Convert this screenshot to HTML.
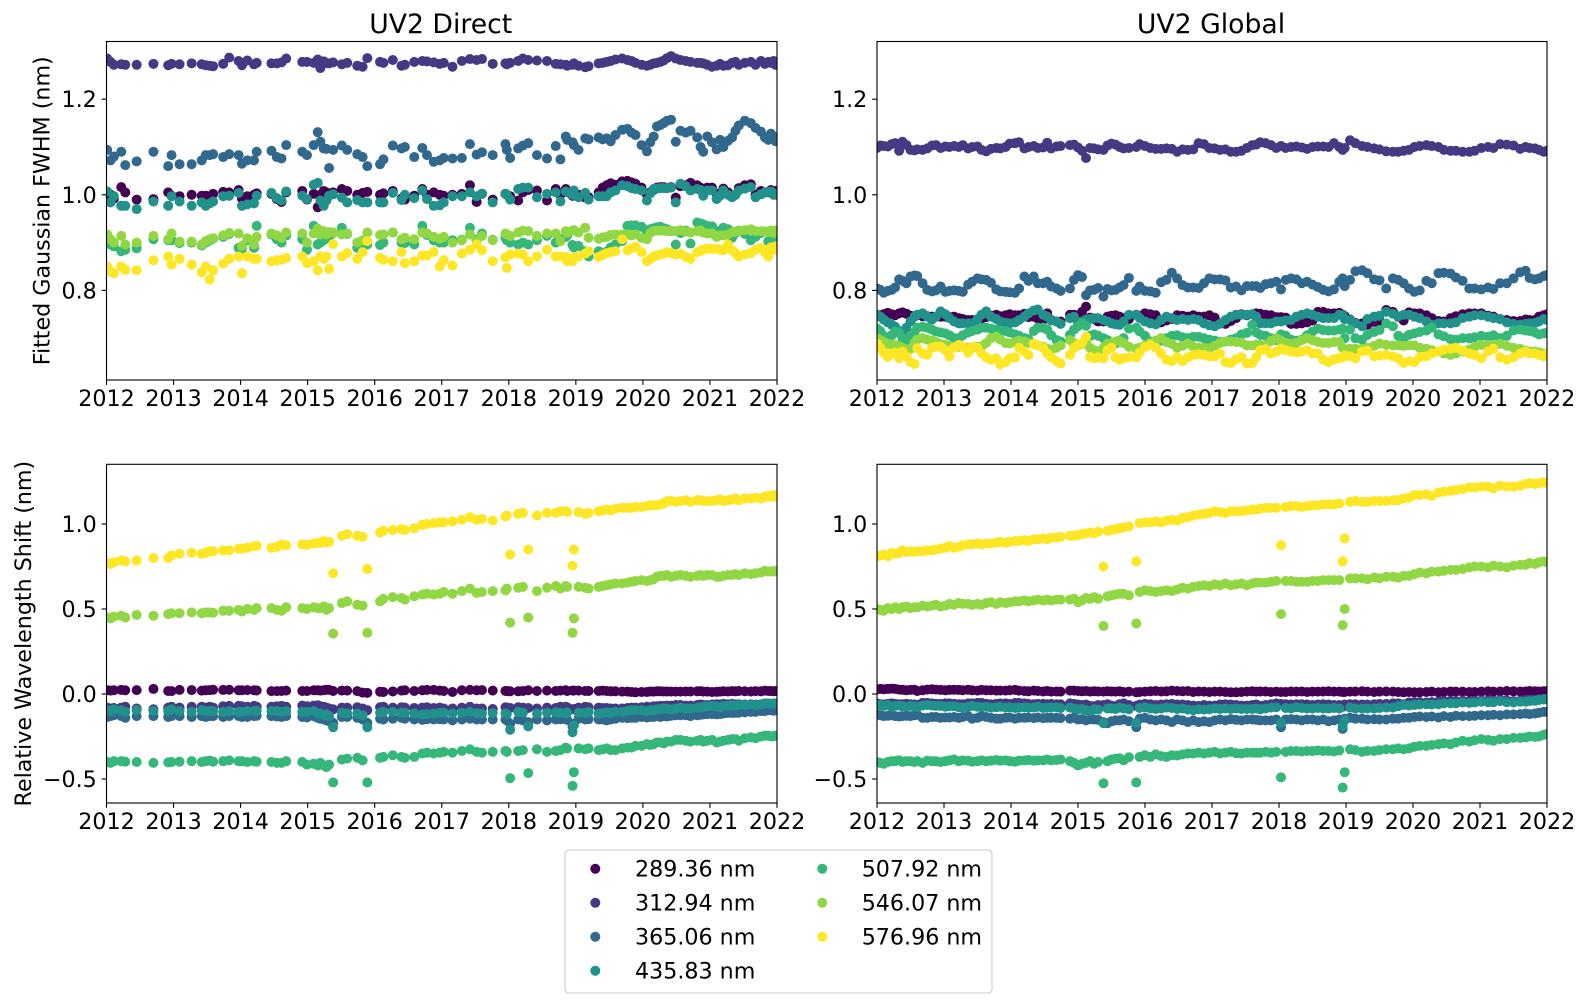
<!DOCTYPE html>
<html lang="en">
<head>
<meta charset="utf-8">
<title>UV2 Direct and Global spectral line fits</title>
<style>
html,body{margin:0;padding:0;background:#fff;}
svg{display:block;font-family:"DejaVu Sans","Liberation Sans",sans-serif;}
</style>
</head>
<body>
<svg id="figure" xmlns="http://www.w3.org/2000/svg" width="1586" height="1008" viewBox="0 0 1586 1008"></svg>
<script>
// Tick labels and categories
const xTickYears = [2012,2013,2014,2015,2016,2017,2018,2019,2020,2021,2022];
const fwhmTicks = [0.8,1.0,1.2];
const shiftTicks = [-0.5,0.0,0.5,1.0];
const wavelengths = ["289.36 nm","312.94 nm","365.06 nm","435.83 nm","507.92 nm","546.07 nm","576.96 nm"];

// Observation times, years since 2012
const directYears = [
0.01,0.06,0.11,0.22,0.28,0.45,0.70,0.92,0.97,1.09,
1.27,1.42,1.48,1.54,1.59,1.74,1.83,1.97,2.02,2.10,
2.20,2.24,2.46,2.54,2.61,2.68,2.92,2.99,3.09,3.15,
3.19,3.24,3.28,3.32,3.38,3.51,3.59,3.74,3.82,3.89,
4.08,4.13,4.27,4.40,4.45,4.59,4.71,4.78,4.88,4.97,
5.03,5.16,5.30,5.42,5.52,5.60,5.76,5.95,5.97,6.02,
6.14,6.21,6.29,6.42,6.57,6.70,6.77,6.85,6.87,6.95,
6.97,7.04,7.14,7.19,7.34,7.40,7.46,7.52,7.59,7.69,
7.77,7.83,7.89,7.98,8.06,8.11,8.16,8.21,8.26,8.31,
8.36,8.42,8.49,8.56,8.64,8.71,8.81,8.86,8.90,8.96,
9.03,9.10,9.15,9.20,9.27,9.33,9.38,9.43,9.52,9.61,
9.68,9.76,9.82,9.87,9.91,9.95,9.98,10.00];
const globalYears = [
0.00,0.05,0.10,0.16,0.22,0.27,0.33,0.38,0.44,0.50,
0.56,0.60,0.68,0.75,0.82,0.88,0.95,1.02,1.08,1.15,
1.22,1.28,1.36,1.42,1.50,1.56,1.63,1.70,1.78,1.84,
1.92,1.98,2.06,2.12,2.20,2.26,2.34,2.40,2.48,2.54,
2.60,2.68,2.74,2.88,2.94,3.00,3.06,3.12,3.18,3.24,
3.30,3.38,3.44,3.50,3.56,3.62,3.68,3.76,3.87,3.92,
4.00,4.08,4.16,4.24,4.32,4.40,4.48,4.56,4.64,4.72,
4.80,4.88,4.96,5.04,5.12,5.20,5.28,5.36,5.44,5.52,
5.60,5.66,5.72,5.80,5.88,5.96,6.03,6.10,6.18,6.26,
6.34,6.42,6.50,6.58,6.66,6.74,6.82,6.90,6.95,6.98,
7.06,7.14,7.24,7.32,7.42,7.50,7.60,7.70,7.78,7.86,
7.94,8.02,8.10,8.20,8.28,8.38,8.46,8.56,8.64,8.74,
8.84,8.92,9.02,9.12,9.20,9.30,9.40,9.50,9.60,9.68,
9.74,9.82,9.88,9.95,10.00];

// All series values below are in thousandths of a nanometre.
// UV2 Direct, fitted FWHM
const directFwhm289 = [
1005,1000,992,1016,1005,990,991,1005,998,997,
1000,998,998,997,1002,1006,1005,1010,992,997,
1000,1003,1002,991,985,1005,1008,990,1002,974,
1000,1008,1005,1000,1005,1012,1008,1000,1004,1006,
1000,1003,1008,992,990,998,1012,1000,1005,1000,
998,1000,1002,1020,985,1002,990,1002,1000,997,
988,1005,1010,1009,988,1012,1000,1012,1008,998,
1005,1000,994,995,1005,1015,1020,1024,1021,1028,
1029,1026,1023,1015,1000,1005,1010,1015,1016,1016,
1014,1016,994,1018,1020,1025,1020,1015,1010,1015,
1015,1002,1003,1013,1005,998,1000,1014,1020,1022,
1000,1008,1005,1005,1010,1002,1008,1006];
const directFwhm312 = [
1285,1278,1272,1273,1272,1272,1274,1271,1274,1273,
1275,1273,1271,1270,1269,1274,1287,1280,1271,1281,
1273,1276,1275,1275,1277,1285,1278,1278,1276,1283,
1265,1279,1276,1275,1277,1273,1276,1270,1268,1286,
1278,1276,1282,1270,1272,1278,1280,1279,1277,1274,
1276,1268,1280,1284,1282,1284,1274,1275,1273,1276,
1280,1285,1282,1281,1280,1274,1273,1272,1270,1272,
1275,1270,1267,1269,1275,1276,1278,1280,1283,1285,
1282,1280,1276,1272,1270,1272,1275,1276,1278,1281,
1286,1290,1285,1282,1280,1278,1276,1276,1275,1272,
1268,1270,1274,1270,1271,1276,1278,1272,1276,1278,
1272,1280,1274,1278,1276,1280,1272,1275];
const directFwhm365 = [
1094,1072,1080,1090,1062,1070,1090,1060,1083,1064,
1064,1072,1083,1083,1085,1079,1085,1083,1065,1072,
1072,1090,1092,1079,1076,1104,1090,1083,1104,1131,
1111,1097,1096,1056,1094,1103,1094,1085,1079,1060,
1064,1074,1103,1097,1100,1079,1098,1083,1069,1072,
1077,1076,1077,1106,1084,1089,1083,1106,1094,1077,
1097,1103,1108,1083,1076,1102,1074,1122,1115,1110,
1104,1094,1118,1116,1120,1116,1118,1112,1125,1136,
1138,1130,1125,1104,1091,1110,1122,1143,1146,1150,
1155,1157,1111,1134,1130,1134,1120,1100,1090,1122,
1110,1095,1115,1100,1113,1120,1134,1145,1155,1150,
1140,1132,1120,1115,1128,1122,1112,1118];
const directFwhm435 = [
1007,984,997,977,977,970,986,977,997,986,
977,984,977,982,986,997,998,1004,977,980,
982,998,1004,993,988,1007,998,991,1021,1025,
988,977,988,998,1001,994,984,989,984,984,
984,984,1004,989,1000,993,1009,991,977,978,
984,997,997,1005,997,1002,984,1002,1000,990,
1012,1015,1015,995,1002,1005,986,1007,1005,1000,
1009,995,1004,990,997,997,997,1005,1009,1020,
1018,1014,1012,1009,988,1003,1012,1013,1014,1014,
1014,1015,984,1023,1018,1009,1012,1010,998,1009,
1009,991,998,1009,1000,995,1000,1009,1013,1016,
995,1001,1005,1005,1007,1000,1000,1002];
const directFwhm507 = [
915,896,892,882,885,888,907,905,905,899,
900,894,900,905,908,912,918,889,887,905,
889,935,917,907,900,915,907,885,935,896,
900,905,910,912,920,931,918,889,890,896,
895,900,921,900,899,896,935,916,905,900,
900,905,906,931,906,919,906,910,905,900,
896,900,896,905,914,900,907,912,915,895,
890,893,882,871,882,875,881,890,896,903,
935,936,936,933,921,928,930,932,933,930,
928,924,896,920,925,898,942,940,938,935,
934,914,925,931,928,910,920,925,918,905,
912,920,923,903,915,910,918,908];
const directFwhm546 = [
917,907,900,914,896,900,914,907,919,902,
902,896,903,907,909,915,920,919,893,909,
896,912,919,915,910,921,919,900,919,929,
917,924,917,922,921,917,919,900,905,921,
916,917,921,907,910,907,921,919,912,908,
912,900,905,917,903,914,905,919,917,914,
921,925,924,914,919,919,903,924,920,925,
926,921,931,910,908,911,912,916,917,917,
917,915,917,910,907,920,924,925,925,925,
924,925,924,926,923,921,924,925,921,919,
919,912,915,915,917,921,923,924,926,928,
924,924,923,922,925,920,925,922];
const directFwhm576 = [
850,840,836,850,843,842,863,871,854,866,
854,838,850,823,842,856,866,871,836,871,
866,866,861,863,864,868,871,857,861,842,
871,866,871,845,897,871,878,866,880,903,
868,864,861,880,857,861,873,873,880,850,
863,852,877,885,896,884,861,869,847,875,
877,875,861,871,885,871,871,870,861,861,
869,871,877,882,870,874,878,880,882,907,
884,888,891,880,861,866,871,873,875,877,
880,878,875,877,870,866,880,883,885,887,
887,887,885,884,896,884,878,871,875,878,
885,889,880,871,890,885,892,885];

// UV2 Global, fitted FWHM
const globalFwhm289 = [
749,748,750,753,750,748,752,754,751,747,
746,748,746,746,745,745,745,745,744,745,
742,740,738,738,739,741,744,747,749,746,
748,750,748,748,751,744,745,741,738,752,
738,735,735,749,749,746,755,766,743,740,
735,735,745,747,748,745,742,740,749,747,
752,750,748,733,737,740,748,747,745,748,
745,745,748,743,731,730,736,742,750,748,
750,752,751,749,748,744,744,743,730,730,
731,733,737,755,755,752,752,753,749,746,
739,732,731,728,734,736,759,755,745,737,
754,752,752,748,742,736,735,742,746,750,
752,752,752,747,745,740,738,736,736,739,
738,738,745,748,750];
const globalFwhm312 = [
1098,1103,1102,1101,1106,1108,1092,1111,1104,1094,
1093,1095,1094,1097,1103,1104,1098,1101,1100,1102,
1100,1104,1097,1100,1101,1094,1091,1096,1098,1097,
1100,1107,1108,1110,1097,1100,1102,1098,1099,1109,
1097,1101,1102,1104,1105,1099,1092,1077,1098,1097,
1095,1094,1103,1107,1105,1100,1097,1098,1100,1106,
1102,1098,1096,1096,1097,1096,1090,1095,1094,1095,
1108,1106,1098,1097,1094,1095,1090,1090,1092,1098,
1104,1105,1110,1108,1104,1098,1102,1098,1100,1101,
1099,1096,1100,1101,1101,1100,1108,1100,1094,1098,
1114,1108,1102,1100,1097,1095,1091,1090,1090,1092,
1094,1100,1102,1104,1102,1100,1094,1092,1092,1090,
1090,1092,1098,1100,1098,1106,1105,1103,1096,1100,
1098,1097,1094,1090,1092];
const globalFwhm365 = [
804,801,795,799,801,806,823,820,815,829,
831,830,815,801,798,800,808,797,799,800,
799,797,812,818,825,823,822,816,802,798,
797,796,795,804,829,820,829,815,815,818,
808,804,799,804,822,832,828,790,800,801,
805,787,803,800,801,806,811,826,799,808,
799,798,795,817,822,837,825,811,806,806,
805,815,825,823,823,821,806,808,800,809,
809,809,805,813,815,818,802,822,825,823,
815,818,812,807,801,798,802,818,825,809,
822,840,842,836,823,821,804,825,822,815,
804,797,800,820,815,836,837,835,827,820,
804,804,802,806,803,815,815,825,838,841,
826,823,825,830,832];
const globalFwhm435 = [
749,745,739,733,728,724,715,714,722,735,
745,749,752,745,739,745,756,750,742,735,
731,731,731,731,740,749,756,745,740,735,
732,731,733,738,745,752,758,760,749,745,
737,735,730,742,745,731,735,739,740,742,
742,738,735,731,729,728,735,749,749,742,
735,731,729,738,745,742,738,740,738,740,
738,731,727,725,730,738,745,749,749,749,
750,745,731,731,731,735,735,737,738,745,
749,752,749,745,742,742,742,749,748,740,
738,731,725,740,745,747,755,751,746,749,
749,745,742,735,728,731,731,731,733,742,
745,748,748,745,742,740,733,730,728,730,
731,732,735,740,738];
const globalFwhm507 = [
720,715,705,700,706,714,711,700,695,705,
712,722,724,722,718,714,712,710,706,700,
700,706,712,715,718,722,722,720,718,715,
715,712,708,705,700,698,715,722,722,718,
706,696,693,707,718,725,731,726,705,708,
705,700,696,690,689,695,700,720,722,714,
705,693,690,695,700,705,706,702,700,703,
703,700,697,695,692,693,697,700,708,711,
728,712,707,705,700,696,708,705,697,695,
697,706,714,720,717,716,716,718,720,700,
718,700,697,707,713,717,731,725,705,700,
707,710,713,716,722,708,704,698,697,700,
700,702,705,703,706,700,705,716,718,716,
715,712,708,710,712];
const globalFwhm546 = [
700,696,692,688,687,686,683,680,676,678,
690,697,700,697,695,692,688,686,684,682,
682,682,680,680,682,683,690,700,703,697,
690,689,692,695,693,690,688,685,682,678,
676,680,685,696,690,685,688,695,680,675,
672,680,688,690,693,694,690,682,678,680,
685,690,695,700,692,688,680,684,689,682,
680,680,679,684,690,693,693,692,691,685,
685,686,686,684,694,700,695,690,688,690,
696,700,696,692,690,690,692,692,680,676,
678,678,678,680,684,689,686,685,685,684,
685,685,680,678,675,672,668,665,668,672,
676,682,686,686,686,688,684,680,678,674,
672,672,670,668,666];
const globalFwhm576 = [
689,680,670,661,668,670,658,672,662,650,
646,679,668,665,680,682,682,675,662,680,
686,682,670,682,680,668,660,655,658,645,
650,658,660,680,672,665,688,685,680,668,
660,652,647,665,680,686,690,703,661,658,
660,658,675,680,660,655,658,660,660,670,
682,686,680,668,655,652,660,652,660,665,
666,665,662,662,668,650,648,656,660,647,
648,660,675,677,668,672,678,675,672,670,
672,675,668,668,655,650,656,658,660,664,
662,658,672,674,662,664,665,662,658,648,
652,650,660,662,668,672,676,678,680,674,
668,665,658,672,678,660,655,660,668,672,
668,668,665,662,668];

// UV2 Direct, relative wavelength shift
const directShift289 = [
22,20,22,24,22,23,30,18,17,24,
23,20,22,23,25,24,25,22,22,23,
22,21,17,17,18,20,18,18,22,22,
20,22,25,24,18,20,20,17,8,7,
13,12,15,20,22,18,22,24,24,20,
18,12,22,24,22,23,20,18,18,16,
16,18,22,18,20,18,20,22,18,20,
20,20,18,18,18,20,18,16,16,14,
14,12,10,12,12,15,14,16,16,15,
15,14,14,14,15,15,16,17,14,14,
12,13,14,16,15,17,16,18,16,15,
17,16,20,18,18,16,18,18];
const directShift312 = [
-80,-85,-82,-80,-75,-85,-90,-80,-75,-80,
-75,-75,-80,-75,-80,-72,-70,-70,-72,-75,
-70,-75,-75,-72,-70,-75,-68,-72,-68,-66,
-72,-75,-80,-85,-90,-80,-80,-78,-85,-95,
-78,-75,-80,-78,-80,-82,-80,-78,-82,-80,
-85,-85,-80,-75,-85,-85,-88,-78,-80,-82,
-78,-80,-82,-85,-80,-82,-75,-75,-78,-90,
-88,-80,-75,-78,-80,-82,-82,-85,-85,-85,
-82,-80,-80,-78,-75,-78,-72,-72,-70,-70,
-68,-68,-65,-65,-68,-68,-65,-62,-65,-65,
-62,-60,-62,-58,-60,-58,-62,-60,-62,-60,
-62,-60,-58,-60,-58,-60,-58,-60];
const directShift365 = [
-135,-130,-125,-130,-140,-130,-130,-135,-130,-130,
-135,-130,-135,-130,-130,-135,-130,-130,-135,-135,
-130,-128,-130,-132,-135,-130,-135,-138,-130,-140,
-145,-150,-155,-160,-170,-135,-135,-140,-150,-170,
-145,-150,-145,-140,-145,-150,-152,-148,-150,-148,
-150,-155,-150,-145,-150,-150,-150,-150,-155,-175,
-150,-155,-165,-150,-155,-150,-148,-150,-152,-190,
-175,-145,-150,-148,-150,-150,-155,-150,-145,-140,
-142,-140,-140,-135,-138,-135,-135,-130,-135,-130,
-132,-128,-125,-125,-125,-130,-125,-122,-120,-118,
-118,-120,-118,-115,-112,-112,-110,-110,-108,-105,
-105,-100,-100,-95,-95,-98,-95,-95];
const directShift435 = [
-95,-100,-90,-95,-105,-95,-100,-100,-90,-100,
-105,-95,-100,-100,-100,-105,-100,-105,-105,-100,
-100,-98,-100,-100,-105,-100,-105,-105,-100,-115,
-115,-125,-120,-130,-195,-110,-115,-115,-125,-195,
-110,-105,-105,-110,-110,-115,-120,-118,-115,-110,
-110,-115,-110,-105,-112,-115,-112,-115,-118,-210,
-105,-110,-190,-115,-110,-108,-110,-115,-108,-225,
-185,-110,-110,-105,-115,-112,-108,-110,-105,-105,
-100,-95,-95,-95,-100,-95,-95,-90,-88,-85,
-85,-90,-85,-80,-85,-85,-80,-78,-75,-72,
-70,-72,-78,-70,-68,-65,-68,-65,-65,-62,
-65,-62,-55,-55,-58,-55,-55,-55];
const directShift507 = [
-400,-405,-395,-395,-398,-400,-405,-402,-400,-398,
-395,-400,-395,-392,-398,-395,-390,-395,-395,-400,
-395,-398,-400,-405,-405,-395,-400,-415,-410,-420,
-405,-420,-430,-415,-520,-385,-380,-375,-390,-520,
-375,-370,-360,-370,-375,-370,-350,-345,-350,-345,
-340,-345,-335,-325,-340,-345,-340,-335,-340,-495,
-335,-330,-465,-325,-340,-335,-330,-315,-320,-540,
-460,-320,-325,-320,-330,-325,-320,-330,-330,-320,
-315,-315,-305,-305,-295,-300,-295,-285,-285,-290,
-280,-280,-270,-270,-275,-280,-275,-270,-280,-275,
-270,-285,-280,-275,-270,-265,-265,-275,-260,-255,
-260,-250,-245,-245,-250,-248,-245,-245];
const directShift546 = [
450,445,455,460,450,465,460,470,475,475,
480,475,480,480,478,490,490,495,485,500,
495,505,505,495,490,510,505,500,510,505,
505,515,495,505,355,535,545,525,520,360,
545,560,570,565,555,575,585,590,585,590,
600,590,605,620,595,600,605,610,620,420,
625,630,450,605,625,635,620,635,630,360,
445,630,625,620,630,635,640,645,650,650,
655,660,665,670,665,670,675,690,695,695,
700,690,695,700,695,690,695,700,695,700,
700,690,690,695,700,700,705,700,710,705,
710,715,725,720,722,720,725,720];
const directShift576 = [
770,765,775,785,780,785,800,800,815,825,
830,825,830,840,840,845,845,855,855,860,
870,872,860,865,880,875,880,878,885,890,
888,900,892,895,710,930,940,930,925,735,
950,960,965,970,965,975,995,1000,1005,1010,
1010,1015,1025,1040,1025,1030,1020,1045,1050,820,
1060,1065,850,1050,1065,1065,1075,1075,1070,755,
850,1070,1060,1065,1075,1080,1085,1080,1090,1095,
1095,1095,1100,1100,1105,1110,1110,1110,1115,1120,
1135,1135,1130,1135,1140,1130,1140,1140,1135,1135,
1135,1140,1145,1135,1140,1145,1150,1140,1150,1150,
1155,1150,1160,1165,1160,1170,1165,1160];

// UV2 Global, relative wavelength shift
const globalShift289 = [
28,30,28,30,32,30,26,25,22,24,
25,18,22,26,28,26,24,22,24,25,
24,22,25,22,20,24,22,22,20,20,
20,22,24,20,18,16,20,18,15,18,
14,15,14,20,20,18,16,18,14,16,
15,14,16,15,14,16,12,14,10,12,
14,16,18,15,16,20,18,16,18,12,
15,14,12,14,14,12,10,10,12,14,
16,14,15,15,12,14,12,12,15,14,
15,12,14,14,15,16,14,14,12,12,
14,15,16,14,12,14,15,14,12,10,
12,10,10,12,14,10,12,15,14,14,
12,12,14,16,14,15,18,16,15,15,
18,16,15,16,18];
const globalShift312 = [
-55,-60,-62,-58,-55,-58,-60,-60,-58,-60,
-62,-65,-52,-52,-55,-58,-58,-55,-55,-58,
-60,-60,-55,-55,-52,-52,-58,-60,-58,-55,
-55,-58,-52,-52,-55,-58,-60,-58,-58,-60,
-58,-60,-60,-55,-58,-62,-65,-62,-70,-72,
-65,-65,-60,-68,-72,-60,-55,-65,-70,-62,
-58,-60,-65,-62,-60,-58,-62,-62,-65,-68,
-70,-65,-68,-68,-62,-60,-62,-65,-68,-68,
-65,-62,-70,-65,-60,-55,-58,-60,-62,-60,
-60,-62,-65,-62,-60,-62,-65,-65,-75,-62,
-60,-60,-62,-62,-60,-58,-58,-55,-55,-60,
-50,-48,-48,-50,-48,-45,-42,-40,-42,-40,
-42,-40,-38,-38,-40,-35,-38,-42,-40,-35,
-32,-32,-30,-28,-30];
const globalShift365 = [
-120,-125,-130,-128,-125,-130,-132,-130,-128,-130,
-125,-122,-140,-140,-135,-135,-140,-138,-138,-135,
-140,-135,-130,-145,-140,-130,-135,-140,-145,-145,
-140,-138,-145,-140,-140,-138,-142,-138,-142,-140,
-140,-140,-142,-145,-140,-150,-148,-155,-148,-150,
-152,-165,-172,-160,-155,-155,-150,-160,-195,-145,
-140,-150,-155,-150,-155,-165,-150,-155,-165,-155,
-165,-160,-165,-155,-150,-155,-148,-152,-155,-150,
-150,-152,-155,-155,-155,-150,-195,-150,-148,-150,
-155,-150,-150,-155,-150,-160,-155,-150,-205,-145,
-140,-145,-145,-150,-148,-150,-150,-145,-145,-140,
-140,-135,-132,-135,-132,-138,-130,-135,-128,-130,
-130,-128,-125,-125,-122,-125,-120,-120,-118,-115,
-118,-115,-110,-105,-105];
const globalShift435 = [
-65,-65,-70,-65,-75,-70,-68,-72,-75,-70,
-72,-78,-68,-65,-68,-70,-70,-75,-72,-72,
-78,-80,-75,-70,-75,-78,-75,-80,-78,-75,
-80,-78,-82,-80,-78,-80,-80,-75,-82,-80,
-80,-78,-82,-80,-85,-90,-88,-95,-100,-90,
-92,-172,-85,-85,-88,-80,-85,-90,-170,-82,
-78,-85,-88,-85,-80,-82,-88,-85,-92,-95,
-90,-92,-90,-85,-88,-85,-88,-85,-88,-88,
-88,-85,-90,-85,-80,-78,-170,-82,-85,-78,
-82,-85,-85,-82,-85,-85,-82,-85,-190,-155,
-80,-85,-85,-85,-85,-82,-80,-80,-72,-65,
-68,-65,-62,-60,-62,-60,-55,-55,-55,-50,
-52,-50,-45,-48,-48,-42,-48,-50,-45,-45,
-42,-40,-35,-32,-28];
const globalShift507 = [
-400,-405,-410,-400,-395,-395,-390,-400,-395,-395,
-400,-395,-405,-392,-395,-395,-400,-395,-390,-385,
-395,-390,-392,-398,-395,-390,-395,-392,-388,-392,
-390,-395,-398,-392,-390,-388,-392,-390,-390,-385,
-390,-388,-385,-395,-405,-420,-410,-405,-395,-410,
-400,-525,-395,-385,-380,-378,-390,-372,-520,-370,
-360,-370,-355,-365,-370,-360,-362,-355,-350,-350,
-345,-350,-345,-340,-350,-345,-340,-348,-350,-345,
-345,-345,-345,-340,-345,-340,-490,-340,-335,-335,
-338,-335,-335,-332,-335,-335,-338,-332,-550,-460,
-325,-330,-340,-335,-335,-330,-325,-325,-320,-325,
-320,-310,-305,-305,-300,-295,-290,-295,-285,-275,
-280,-272,-265,-270,-275,-265,-265,-258,-258,-255,
-250,-252,-250,-240,-235];
const globalShift546 = [
500,495,490,505,500,510,500,510,515,505,
510,510,520,515,520,525,515,520,530,525,
535,530,530,525,530,525,535,540,530,540,
535,540,545,545,550,545,550,555,550,555,
550,555,555,555,560,540,550,565,560,570,
560,400,575,580,585,590,590,580,415,600,
610,605,600,605,610,605,615,625,620,630,
635,640,635,645,640,650,640,645,650,640,
650,655,655,655,660,665,470,665,665,660,
660,660,665,665,670,670,670,670,405,500,
680,680,680,675,685,680,690,690,685,695,
695,705,715,710,720,720,725,730,730,735,
745,750,750,745,755,750,745,755,760,760,
770,765,775,780,775];
const globalShift576 = [
810,815,820,810,830,825,830,845,835,840,
835,840,840,845,845,850,855,860,870,860,
865,875,880,880,885,880,885,885,890,895,
890,895,900,900,905,900,910,910,915,910,
920,920,925,930,930,935,940,945,950,945,
955,750,960,965,970,975,980,985,780,1005,
1010,1010,1015,1010,1020,1025,1020,1035,1040,1050,
1055,1060,1065,1075,1070,1065,1075,1075,1075,1080,
1085,1085,1090,1095,1095,1095,875,1100,1105,1105,
1100,1105,1110,1110,1115,1115,1115,1120,780,915,
1130,1135,1130,1130,1135,1135,1135,1140,1140,1150,
1155,1170,1170,1175,1165,1185,1190,1195,1200,1205,
1215,1215,1220,1220,1210,1225,1220,1220,1225,1235,
1240,1235,1240,1245,1240];

const NS = "http://www.w3.org/2000/svg";
const svg = document.getElementById("figure");
const seriesColors = ["#440154","#443983","#31688e","#21918c","#35b779","#90d743","#fde725"];
const X_DOMAIN = [2012, 2022];
const FWHM_DOMAIN = [0.6125, 1.3207];
const SHIFT_DOMAIN = [-0.641, 1.351];
const DOT_RADIUS = 5.0;

function make(tag, attrs, parent) {
  const el = document.createElementNS(NS, tag);
  for (const k in attrs) el.setAttribute(k, attrs[k]);
  (parent || svg).appendChild(el);
  return el;
}
function scaleLinear(domain, range) {
  return v => range[0] + (v - domain[0]) / (domain[1] - domain[0]) * (range[1] - range[0]);
}
function fmt(v) { return v.toFixed(1).replace("-", "\u2212"); }

const panels = [
  {key:"direct-fwhm", left:106.5, right:777, top:41.5, bottom:380, domain:FWHM_DOMAIN, ticks:fwhmTicks, years:directYears, title:"UV2 Direct", ylabel:"Fitted Gaussian FWHM (nm)", ylabelX:42.5, series:[directFwhm289,directFwhm312,directFwhm365,directFwhm435,directFwhm507,directFwhm546,directFwhm576]},
  {key:"global-fwhm", left:877, right:1547, top:41.5, bottom:380, domain:FWHM_DOMAIN, ticks:fwhmTicks, years:globalYears, title:"UV2 Global", series:[globalFwhm289,globalFwhm312,globalFwhm365,globalFwhm435,globalFwhm507,globalFwhm546,globalFwhm576]},
  {key:"direct-shift", left:106.5, right:777, top:464.3, bottom:803, domain:SHIFT_DOMAIN, ticks:shiftTicks, years:directYears, ylabel:"Relative Wavelength Shift (nm)", ylabelX:24, series:[directShift289,directShift312,directShift365,directShift435,directShift507,directShift546,directShift576]},
  {key:"global-shift", left:877, right:1547, top:464.3, bottom:803, domain:SHIFT_DOMAIN, ticks:shiftTicks, years:globalYears, series:[globalShift289,globalShift312,globalShift365,globalShift435,globalShift507,globalShift546,globalShift576]}
];

const bg = make("rect", {x:0, y:0, width:1586, height:1008, fill:"#fff"});


const defs = make("defs", {});

panels.forEach(function (p) {
  const xOf = scaleLinear(X_DOMAIN, [p.left, p.right]);
  const yOf = scaleLinear(p.domain, [p.bottom, p.top]);
  const group = make("g", {});
  
  

  const clip = make("clipPath", {id:"clip-" + p.key}, defs);
  make("rect", {x:p.left, y:p.top, width:p.right - p.left, height:p.bottom - p.top}, clip);

  const marks = make("g", {"clip-path":"url(#clip-" + p.key + ")"}, group);
  
  
  p.series.forEach(function (values, s) {
    const sg = make("g", {fill:seriesColors[s]}, marks);
    
    
    values.forEach(function (v, i) {
      const dot = make("circle", {cx:xOf(2012 + p.years[i]).toFixed(2), cy:yOf(v / 1000).toFixed(2), r:DOT_RADIUS}, sg);
      
      
    });
  });

  const frame = make("rect", {x:p.left, y:p.top, width:p.right - p.left, height:p.bottom - p.top, fill:"none", stroke:"#000", "stroke-width":1.11}, group);
  
  

  xTickYears.forEach(function (yr) {
    const x = xOf(yr);
    const tick = make("line", {x1:x, x2:x, y1:p.bottom, y2:p.bottom + 4.86, stroke:"#000", "stroke-width":1.11}, group);
    
    
    const label = make("text", {x:x, y:p.bottom + 26, "font-size":22.2, "text-anchor":"middle", fill:"#000"}, group);
    label.textContent = String(yr);
    
    
  });

  p.ticks.forEach(function (t) {
    const y = yOf(t);
    const tick = make("line", {x1:p.left - 4.86, x2:p.left, y1:y, y2:y, stroke:"#000", "stroke-width":1.11}, group);
    
    
    const label = make("text", {x:p.left - 9.7, y:y + 8, "font-size":22.2, "text-anchor":"end", fill:"#000"}, group);
    label.textContent = fmt(t);
    
    
  });

  if (p.title) {
    const title = make("text", {x:(p.left + p.right) / 2 - 1, y:33, "font-size":26.67, "text-anchor":"middle", fill:"#000"}, group);
    title.textContent = p.title;
    
    
  }
  if (p.ylabel) {
    const cy = (p.top + p.bottom) / 2;
    const yl = make("text", {x:p.ylabelX, y:cy, "font-size":22.2, "text-anchor":"middle", fill:"#000", transform:"rotate(-90 " + p.ylabelX + " " + cy + ")", "dominant-baseline":"central"}, group);
    yl.textContent = p.ylabel;
    
    
  }
});

const legend = make("g", {});


const legendBox = make("rect", {x:565, y:850, width:427, height:143, rx:4, ry:4, fill:"#fff", stroke:"#ccc", "stroke-width":1.11}, legend);


wavelengths.forEach(function (name, i) {
  const col = i < 4 ? 0 : 1;
  const row = i < 4 ? i : i - 4;
  const cy = 869.3 + row * 34;
  const entry = make("g", {}, legend);
  
  
  const marker = make("circle", {cx:col === 0 ? 595.3 : 822.3, cy:cy - 0.5, r:DOT_RADIUS, fill:seriesColors[i]}, entry);
  
  
  const label = make("text", {x:col === 0 ? 635 : 861.7, y:cy + 7, "font-size":22.2, fill:"#000"}, entry);
  label.textContent = name;
  
  
});
</script>
</body>
</html>
